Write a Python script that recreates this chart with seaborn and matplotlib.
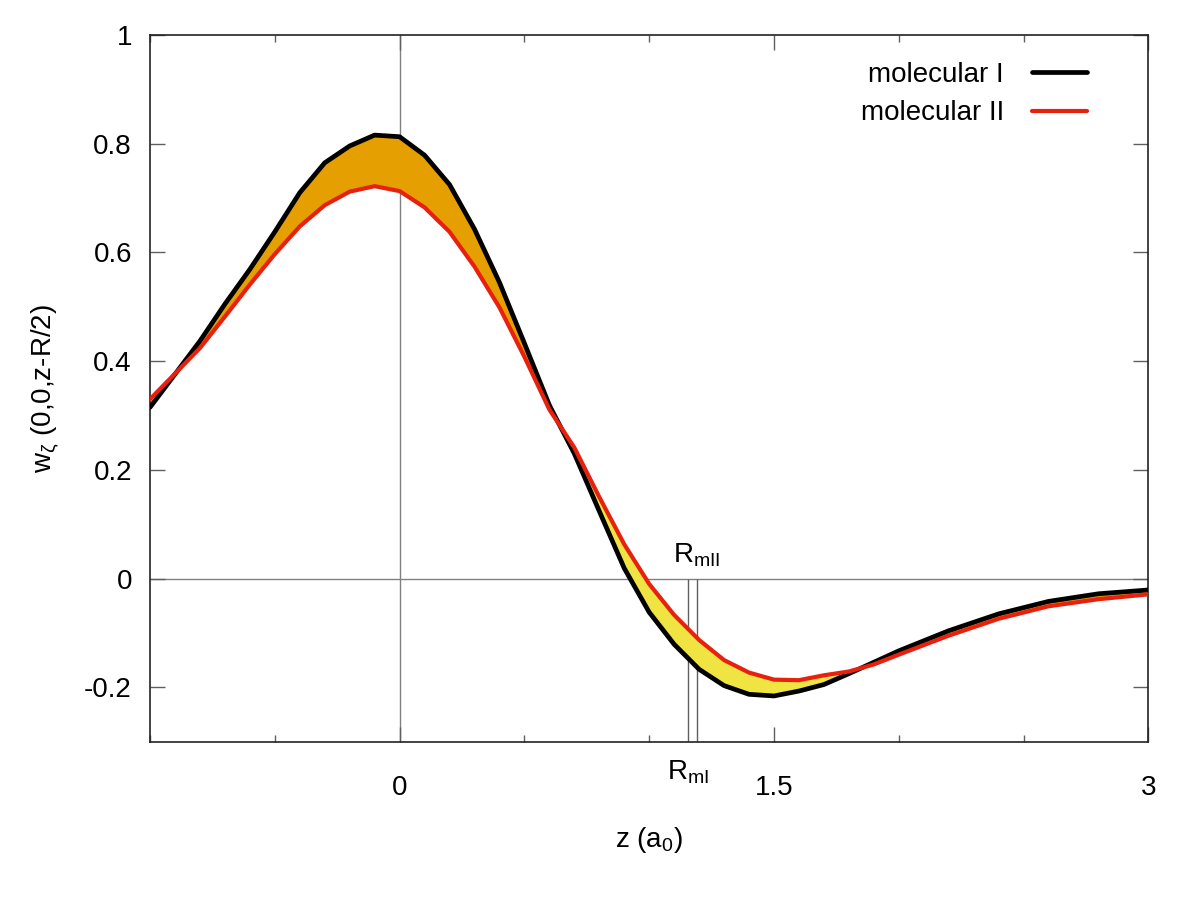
import numpy as np
import pandas as pd
import matplotlib
matplotlib.use("Agg")
import matplotlib.pyplot as plt
import seaborn as sns

# valori
z = [-1.0, -0.9, -0.8, -0.7, -0.6, -0.5, -0.4, -0.3, -0.2, -0.1, 0.0,
     0.1, 0.2, 0.3, 0.4, 0.5, 0.6, 0.7, 0.8, 0.9, 1.0,
     1.1, 1.2, 1.3, 1.4, 1.5, 1.6, 1.7, 1.8, 1.9, 2.0,
     2.2, 2.4, 2.6, 2.8, 3.0]
w_mol1 = [0.315, 0.376, 0.437, 0.505, 0.569, 0.638, 0.710, 0.765, 0.796, 0.816, 0.813,
          0.779, 0.725, 0.643, 0.545, 0.433, 0.319, 0.230, 0.124, 0.019, -0.062,
          -0.121, -0.167, -0.197, -0.213, -0.216, -0.207, -0.195, -0.175, -0.154, -0.133,
          -0.096, -0.065, -0.042, -0.028, -0.021]
w_mol2 = [0.330, 0.377, 0.424, 0.482, 0.541, 0.597, 0.648, 0.687, 0.712, 0.722, 0.713,
          0.683, 0.638, 0.574, 0.499, 0.408, 0.311, 0.241, 0.150, 0.063, -0.010,
          -0.067, -0.113, -0.150, -0.173, -0.186, -0.187, -0.178, -0.171, -0.158, -0.140,
          -0.105, -0.074, -0.051, -0.038, -0.029]
r_mI = 1.155
r_mII = 1.19
yticks = [-0.2, 0, 0.2, 0.4, 0.6, 0.8, 1]
ytick_labels = ["-0.2", "0", "0.2", "0.4", "0.6", "0.8", "1"]

sns.set_theme(style="ticks")
plt.rcParams["font.family"] = ["Liberation Sans", "DejaVu Sans"]
plt.rcParams["mathtext.default"] = "regular"
plt.rcParams["font.size"] = 20
plt.rcParams["text.color"] = "black"
plt.rcParams["axes.labelcolor"] = "black"
plt.rcParams["xtick.labelcolor"] = "black"
plt.rcParams["ytick.labelcolor"] = "black"

df = pd.DataFrame({"z": z, "I": w_mol1, "II": w_mol2})

fig = plt.figure(figsize=(12, 9), dpi=100)
ax = fig.add_axes([0.125, 0.176, 0.832, 0.785])

# riempimenti tra le due curve
zz = np.array(z)
a = np.array(w_mol1)
b = np.array(w_mol2)
ax.fill_between(zz, a, b, where=a >= b, interpolate=True, color="#E69F00", lw=0, zorder=1)
ax.fill_between(zz, a, b, where=a < b, interpolate=True, color="#F0E442", lw=0, zorder=1)

# linee di riferimento
ax.axhline(0, color="#808080", lw=1, zorder=0.5)
ax.axvline(0, color="#808080", lw=1, zorder=0.5)
ax.vlines([r_mI, r_mII], -0.3, 0, color="#606060", lw=1, zorder=0.5)

sns.lineplot(data=df, x="z", y="I", ax=ax, color="black", lw=3.4, label="molecular I", zorder=3)
sns.lineplot(data=df, x="z", y="II", ax=ax, color="#E8210F", lw=3, label="molecular II", zorder=4)

ax.set_xlim(-1, 3)
ax.set_ylim(-0.3, 1)
ax.set_xticks([0, 1.5, 3])
ax.set_xticklabels(["0", "1.5", "3"])
ax.set_xticks([-1, -0.5, 0.5, 1, 2, 2.5], minor=True)
ax.set_yticks(yticks)
ax.set_yticklabels(ytick_labels)
ax.tick_params(axis="both", which="major", direction="in", length=11, width=1,
               color="#606060", labelsize=20, labelcolor="black", top=True, right=True)
ax.tick_params(axis="x", which="minor", direction="in", length=5, width=1,
               color="#606060", top=True)
ax.tick_params(axis="x", which="major", pad=24)
ax.tick_params(axis="y", which="major", pad=13)

for s in ax.spines.values():
    s.set_color("#222222")
    s.set_linewidth(1.2)

ax.text(r_mI, -0.370, "R$_{mI}$", ha="center", va="baseline", fontsize=20, color="black")
ax.text(r_mII, 0.030, "R$_{mII}$", ha="center", va="baseline", fontsize=20, color="black")

ax.set_xlabel("z (a$_0$)", fontsize=20, labelpad=17, color="black")
ax.set_ylabel("w$_ζ$ (0,0,z-R/2)", fontsize=20, labelpad=17, color="black")

leg = ax.legend(loc="upper right", bbox_to_anchor=(0.950, 0.978), borderaxespad=0,
                frameon=False, markerfirst=False, fontsize=20,
                handlelength=2.0, handletextpad=1.0, labelspacing=0.45)
for t in leg.get_texts():
    t.set_color("black")

fig.savefig("out.png", dpi=100)
plt.close()
